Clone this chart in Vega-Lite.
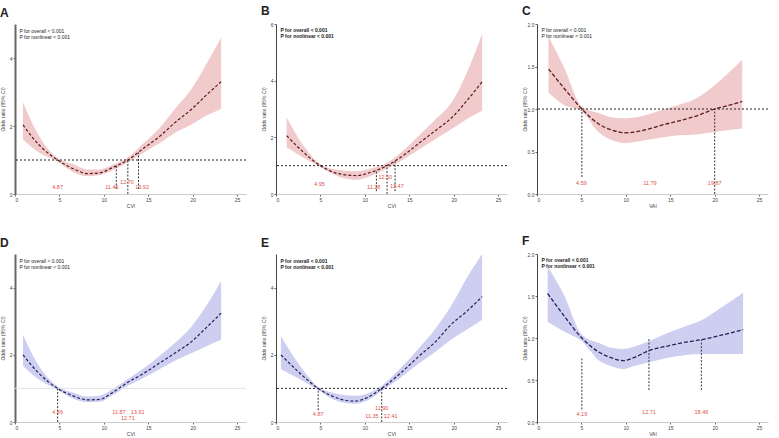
{
  "$schema": "https://vega.github.io/schema/vega-lite/v6.json",
  "padding": {"left": 0, "top": 5, "right": 0, "bottom": 0},
  "background": "white",
  "datasets": {
    "A_curve": [
      {"x": 0.9, "est": 2.03, "lo": 1.6, "hi": 2.7},
      {"x": 2.5, "est": 1.5, "lo": 1.25, "hi": 1.8},
      {"x": 4.8, "est": 1.0, "lo": 0.95, "hi": 1.05},
      {"x": 6.5, "est": 0.75, "lo": 0.65, "hi": 0.88},
      {"x": 8.2, "est": 0.6, "lo": 0.52, "hi": 0.72},
      {"x": 9.5, "est": 0.62, "lo": 0.55, "hi": 0.72},
      {"x": 11.0, "est": 0.78, "lo": 0.7, "hi": 0.86},
      {"x": 12.7, "est": 1.0, "lo": 0.93, "hi": 1.07},
      {"x": 14.5, "est": 1.35, "lo": 1.22, "hi": 1.5},
      {"x": 16.3, "est": 1.7, "lo": 1.5, "hi": 1.95},
      {"x": 18.0, "est": 2.1, "lo": 1.8, "hi": 2.5},
      {"x": 19.9, "est": 2.5, "lo": 2.05, "hi": 3.1},
      {"x": 21.5, "est": 2.9, "lo": 2.3, "hi": 3.8},
      {"x": 23.2, "est": 3.3, "lo": 2.5, "hi": 4.6}
    ],
    "A_cut": [
      {"x": 11.4, "y0": 0.15, "y1": 0.85},
      {"x": 12.7, "y0": 0.0, "y1": 1.0},
      {"x": 13.9, "y0": 0.15, "y1": 1.22}
    ],
    "A_lab": [
      {"x": 4.8, "y": 0.22, "label": "4.87"},
      {"x": 10.9, "y": 0.22, "label": "11.46"},
      {"x": 12.6, "y": 0.36, "label": "12.70"},
      {"x": 14.3, "y": 0.22, "label": "13.92"}
    ],
    "B_curve": [
      {"x": 1.2, "est": 2.06, "lo": 1.65, "hi": 2.7},
      {"x": 3.0, "est": 1.5, "lo": 1.3, "hi": 1.75},
      {"x": 5.0, "est": 1.0, "lo": 0.95, "hi": 1.05},
      {"x": 7.0, "est": 0.72, "lo": 0.62, "hi": 0.85},
      {"x": 9.1, "est": 0.65, "lo": 0.5, "hi": 0.8},
      {"x": 10.5, "est": 0.75, "lo": 0.62, "hi": 0.88},
      {"x": 12.5, "est": 1.0, "lo": 0.9, "hi": 1.1},
      {"x": 14.5, "est": 1.4, "lo": 1.25, "hi": 1.58},
      {"x": 16.2, "est": 1.82, "lo": 1.6, "hi": 2.1},
      {"x": 18.0, "est": 2.25, "lo": 1.95, "hi": 2.65},
      {"x": 19.8, "est": 2.7, "lo": 2.3, "hi": 3.25},
      {"x": 21.5, "est": 3.3, "lo": 2.65, "hi": 4.3},
      {"x": 23.2, "est": 3.96, "lo": 2.94, "hi": 5.65}
    ],
    "B_cut": [
      {"x": 11.3, "y0": 0.1, "y1": 0.85},
      {"x": 12.5, "y0": 0.0, "y1": 1.0},
      {"x": 13.4, "y0": 0.1, "y1": 1.2}
    ],
    "B_lab": [
      {"x": 4.9, "y": 0.35, "label": "4.95"},
      {"x": 11.0, "y": 0.24, "label": "11.28"},
      {"x": 12.3, "y": 0.59, "label": "12.50"},
      {"x": 13.6, "y": 0.29, "label": "13.47"}
    ],
    "C_curve": [
      {"x": 1.3, "est": 1.47, "lo": 1.19, "hi": 1.85},
      {"x": 3.0, "est": 1.25, "lo": 1.05, "hi": 1.5},
      {"x": 5.05, "est": 1.0, "lo": 0.97, "hi": 1.03},
      {"x": 7.0, "est": 0.82, "lo": 0.72, "hi": 0.95},
      {"x": 8.5, "est": 0.75, "lo": 0.63, "hi": 0.9},
      {"x": 10.0, "est": 0.72, "lo": 0.6, "hi": 0.89},
      {"x": 12.0, "est": 0.75, "lo": 0.63, "hi": 0.92},
      {"x": 14.4, "est": 0.82, "lo": 0.67, "hi": 1.0},
      {"x": 16.0, "est": 0.86, "lo": 0.69, "hi": 1.05},
      {"x": 18.0, "est": 0.92, "lo": 0.7, "hi": 1.13},
      {"x": 20.0, "est": 1.0, "lo": 0.73, "hi": 1.28},
      {"x": 21.5, "est": 1.04, "lo": 0.75, "hi": 1.42},
      {"x": 23.1, "est": 1.09, "lo": 0.77, "hi": 1.58}
    ],
    "C_cut": [
      {"x": 5.05, "y0": 0.2, "y1": 1.0},
      {"x": 20.0, "y0": 0.0, "y1": 1.0}
    ],
    "C_lab": [
      {"x": 5.0, "y": 0.13, "label": "4.59"},
      {"x": 12.7, "y": 0.13, "label": "11.79"},
      {"x": 20.0, "y": 0.13, "label": "19.87"}
    ],
    "D_curve": [
      {"x": 0.9, "est": 2.0, "lo": 1.67, "hi": 2.6},
      {"x": 2.5, "est": 1.5, "lo": 1.3, "hi": 1.75},
      {"x": 4.8, "est": 1.0, "lo": 0.95, "hi": 1.06},
      {"x": 6.5, "est": 0.78, "lo": 0.7, "hi": 0.88},
      {"x": 8.2, "est": 0.66, "lo": 0.59, "hi": 0.76},
      {"x": 9.5, "est": 0.67, "lo": 0.6, "hi": 0.78},
      {"x": 11.0, "est": 0.88, "lo": 0.8, "hi": 0.98},
      {"x": 12.7, "est": 1.18, "lo": 1.08, "hi": 1.28},
      {"x": 14.5, "est": 1.45, "lo": 1.32, "hi": 1.6},
      {"x": 16.3, "est": 1.76, "lo": 1.58, "hi": 1.97},
      {"x": 18.0, "est": 2.05, "lo": 1.82, "hi": 2.35},
      {"x": 19.9, "est": 2.4, "lo": 2.05, "hi": 2.85},
      {"x": 21.5, "est": 2.8, "lo": 2.25, "hi": 3.45},
      {"x": 23.2, "est": 3.24, "lo": 2.45, "hi": 4.2}
    ],
    "D_cut": [
      {"x": 4.8, "y0": 0.0, "y1": 1.0}
    ],
    "D_lab": [
      {"x": 4.8, "y": 0.3, "label": "4.86"},
      {"x": 11.7, "y": 0.3, "label": "11.87"},
      {"x": 13.8, "y": 0.3, "label": "13.61"},
      {"x": 12.7, "y": 0.13, "label": "12.71"}
    ],
    "E_curve": [
      {"x": 0.55, "est": 2.0, "lo": 1.57, "hi": 2.55},
      {"x": 2.5, "est": 1.5, "lo": 1.3, "hi": 1.75},
      {"x": 4.75, "est": 1.0, "lo": 0.95, "hi": 1.05},
      {"x": 6.5, "est": 0.75, "lo": 0.66, "hi": 0.86},
      {"x": 8.8, "est": 0.62, "lo": 0.54, "hi": 0.78},
      {"x": 10.3, "est": 0.73, "lo": 0.64, "hi": 0.85},
      {"x": 11.9, "est": 1.0, "lo": 0.92, "hi": 1.08},
      {"x": 14.0, "est": 1.45, "lo": 1.32, "hi": 1.6},
      {"x": 16.1, "est": 1.96, "lo": 1.75, "hi": 2.2},
      {"x": 18.0, "est": 2.4, "lo": 2.1, "hi": 2.8},
      {"x": 19.7, "est": 2.9, "lo": 2.45, "hi": 3.45},
      {"x": 21.5, "est": 3.3, "lo": 2.75, "hi": 4.3},
      {"x": 23.2, "est": 3.73, "lo": 3.04, "hi": 5.0}
    ],
    "E_cut": [
      {"x": 4.75, "y0": 0.35, "y1": 1.0},
      {"x": 11.9, "y0": 0.0, "y1": 1.0}
    ],
    "E_lab": [
      {"x": 4.75, "y": 0.25, "label": "4.87"},
      {"x": 10.8, "y": 0.18, "label": "11.35"},
      {"x": 12.9, "y": 0.18, "label": "12.41"},
      {"x": 11.9, "y": 0.42, "label": "11.90"}
    ],
    "F_curve": [
      {"x": 1.2, "est": 1.53, "lo": 1.19, "hi": 1.85},
      {"x": 3.0, "est": 1.27, "lo": 1.08, "hi": 1.52},
      {"x": 5.05, "est": 1.0, "lo": 0.96, "hi": 1.04},
      {"x": 7.0, "est": 0.83, "lo": 0.73, "hi": 0.94},
      {"x": 8.5, "est": 0.76, "lo": 0.66, "hi": 0.88},
      {"x": 9.7, "est": 0.73, "lo": 0.63, "hi": 0.87},
      {"x": 11.0, "est": 0.77, "lo": 0.67, "hi": 0.9},
      {"x": 12.6, "est": 0.85, "lo": 0.71, "hi": 0.96},
      {"x": 14.5, "est": 0.9, "lo": 0.76, "hi": 1.05},
      {"x": 16.2, "est": 0.94, "lo": 0.79, "hi": 1.12},
      {"x": 18.5, "est": 0.98, "lo": 0.81, "hi": 1.21},
      {"x": 21.0, "est": 1.04, "lo": 0.81, "hi": 1.38},
      {"x": 23.2, "est": 1.1, "lo": 0.81, "hi": 1.54}
    ],
    "F_cut": [
      {"x": 5.05, "y0": 0.15, "y1": 0.77},
      {"x": 12.6, "y0": 0.38, "y1": 1.0},
      {"x": 18.5, "y0": 0.38, "y1": 0.98}
    ],
    "F_lab": [
      {"x": 5.05, "y": 0.1, "label": "4.19"},
      {"x": 12.6, "y": 0.12, "label": "12.71"},
      {"x": 18.5, "y": 0.12, "label": "18.46"}
    ],
    "ref": [{"ref": 1}],
    "one": [{"id": 1}]
  },
  "vconcat": [
    {
      "hconcat": [
        {
          "title": "A", "width": 231, "height": 170,
          "layer": [
            {"data": {"name": "A_curve"}, "mark": {"type": "area", "color": "#f0c4c6", "opacity": 0.9, "interpolate": "monotone", "clip": true},
             "encoding": {
               "x": {"field": "x", "type": "quantitative", "scale": {"domain": [0, 25]}, "axis": {"values": [0, 5, 10, 15, 20, 25], "title": "CVI", "domainColor": "#ccc"}},
               "y": {"field": "lo", "type": "quantitative", "scale": {"domain": [0, 5]}, "axis": {"values": [0, 1, 2, 3, 4, 5], "labelOverlap": false, "labelSeparation": 0, "title": "Odds ratio (95% CI)", "domainWidth": 2, "domainColor": "#666"}},
               "y2": {"field": "hi"}}},
            {"data": {"name": "A_curve"}, "mark": {"type": "line", "color": "#5a1c1c", "strokeDash": [3, 2], "strokeWidth": 1.2, "interpolate": "monotone"},
             "encoding": {"x": {"field": "x", "type": "quantitative"}, "y": {"field": "est", "type": "quantitative"}}},
            {"data": {"name": "ref"}, "mark": {"type": "rule", "color": "#222", "strokeDash": [2, 2], "strokeWidth": 1},
             "encoding": {"y": {"field": "ref", "type": "quantitative"}}},
            {"data": {"name": "A_cut"}, "mark": {"type": "rule", "color": "#222", "strokeDash": [2, 1.5], "strokeWidth": 0.9},
             "encoding": {"x": {"field": "x", "type": "quantitative"}, "y": {"field": "y0", "type": "quantitative"}, "y2": {"field": "y1"}}},
            {"data": {"name": "A_lab"}, "mark": {"type": "text", "color": "#e0504a", "fontSize": 5.5},
             "encoding": {"x": {"field": "x", "type": "quantitative"}, "y": {"field": "y", "type": "quantitative"}, "text": {"field": "label"}}},
            {"data": {"name": "one"}, "mark": {"type": "text", "align": "left", "baseline": "top", "fontSize": 5, "color": "#222", "lineHeight": 6, "text": ["P for overall < 0.001", "P for nonlinear < 0.001"]},
             "encoding": {"x": {"datum": 0.5}, "y": {"datum": 4.85}}}
          ]
        },
        {
          "title": "B", "width": 231, "height": 170,
          "layer": [
            {"data": {"name": "B_curve"}, "mark": {"type": "area", "color": "#f0c4c6", "opacity": 0.9, "interpolate": "monotone", "clip": true},
             "encoding": {
               "x": {"field": "x", "type": "quantitative", "scale": {"domain": [0, 25]}, "axis": {"values": [0, 5, 10, 15, 20, 25], "title": "CVI", "domainColor": "#ccc"}},
               "y": {"field": "lo", "type": "quantitative", "scale": {"domain": [0, 6]}, "axis": {"values": [0, 1, 2, 3, 4, 5, 6], "labelOverlap": false, "labelSeparation": 0, "title": "Odds ratio (95% CI)", "domainColor": "#444"}},
               "y2": {"field": "hi"}}},
            {"data": {"name": "B_curve"}, "mark": {"type": "line", "color": "#5a1c1c", "strokeDash": [3, 2], "strokeWidth": 1.2, "interpolate": "monotone"},
             "encoding": {"x": {"field": "x", "type": "quantitative"}, "y": {"field": "est", "type": "quantitative"}}},
            {"data": {"name": "ref"}, "mark": {"type": "rule", "color": "#222", "strokeDash": [2, 2], "strokeWidth": 1},
             "encoding": {"y": {"field": "ref", "type": "quantitative"}}},
            {"data": {"name": "B_cut"}, "mark": {"type": "rule", "color": "#222", "strokeDash": [2, 1.5], "strokeWidth": 0.9},
             "encoding": {"x": {"field": "x", "type": "quantitative"}, "y": {"field": "y0", "type": "quantitative"}, "y2": {"field": "y1"}}},
            {"data": {"name": "B_lab"}, "mark": {"type": "text", "color": "#e0504a", "fontSize": 5.5},
             "encoding": {"x": {"field": "x", "type": "quantitative"}, "y": {"field": "y", "type": "quantitative"}, "text": {"field": "label"}}},
            {"data": {"name": "one"}, "mark": {"type": "text", "align": "left", "baseline": "top", "fontSize": 5, "fontWeight": "bold", "color": "#222", "lineHeight": 6, "text": ["P for overall < 0.001", "P for nonlinear < 0.001"]},
             "encoding": {"x": {"datum": 0.5}, "y": {"datum": 5.85}}}
          ]
        },
        {
          "title": "C", "width": 231, "height": 170,
          "layer": [
            {"data": {"name": "C_curve"}, "mark": {"type": "area", "color": "#f0c4c6", "opacity": 0.9, "interpolate": "monotone", "clip": true},
             "encoding": {
               "x": {"field": "x", "type": "quantitative", "scale": {"domain": [0, 25]}, "axis": {"values": [0, 5, 10, 15, 20, 25], "title": "VAI", "domainColor": "#ccc"}},
               "y": {"field": "lo", "type": "quantitative", "scale": {"domain": [0, 2]}, "axis": {"values": [0, 0.5, 1, 1.5, 2], "labelOverlap": false, "labelSeparation": 0, "format": ".1f", "title": "Odds ratio (95% CI)", "domainColor": "#444"}},
               "y2": {"field": "hi"}}},
            {"data": {"name": "C_curve"}, "mark": {"type": "line", "color": "#5a1c1c", "strokeDash": [4, 2], "strokeWidth": 1.3, "interpolate": "monotone"},
             "encoding": {"x": {"field": "x", "type": "quantitative"}, "y": {"field": "est", "type": "quantitative"}}},
            {"data": {"name": "ref"}, "mark": {"type": "rule", "color": "#222", "strokeDash": [2, 2], "strokeWidth": 1},
             "encoding": {"y": {"field": "ref", "type": "quantitative"}}},
            {"data": {"name": "C_cut"}, "mark": {"type": "rule", "color": "#222", "strokeDash": [2, 1.5], "strokeWidth": 0.9},
             "encoding": {"x": {"field": "x", "type": "quantitative"}, "y": {"field": "y0", "type": "quantitative"}, "y2": {"field": "y1"}}},
            {"data": {"name": "C_lab"}, "mark": {"type": "text", "color": "#e0504a", "fontSize": 5.5},
             "encoding": {"x": {"field": "x", "type": "quantitative"}, "y": {"field": "y", "type": "quantitative"}, "text": {"field": "label"}}},
            {"data": {"name": "one"}, "mark": {"type": "text", "align": "left", "baseline": "top", "fontSize": 5, "color": "#222", "lineHeight": 6, "text": ["P for overall < 0.001", "P for nonlinear < 0.001"]},
             "encoding": {"x": {"datum": 0.5}, "y": {"datum": 1.95}}}
          ]
        }
      ]
    },
    {
      "hconcat": [
        {
          "title": "D", "width": 231, "height": 168,
          "layer": [
            {"data": {"name": "D_curve"}, "mark": {"type": "area", "color": "#c9c9ef", "opacity": 0.9, "interpolate": "monotone", "clip": true},
             "encoding": {
               "x": {"field": "x", "type": "quantitative", "scale": {"domain": [0, 25]}, "axis": {"values": [0, 5, 10, 15, 20, 25], "title": "CVI", "domainColor": "#ccc"}},
               "y": {"field": "lo", "type": "quantitative", "scale": {"domain": [0, 5]}, "axis": {"values": [0, 1, 2, 3, 4, 5], "labelOverlap": false, "labelSeparation": 0, "title": "Odds ratio (95% CI)", "domainWidth": 2, "domainColor": "#666"}},
               "y2": {"field": "hi"}}},
            {"data": {"name": "ref"}, "mark": {"type": "rule", "color": "#e2e2e2", "strokeWidth": 1},
             "encoding": {"y": {"field": "ref", "type": "quantitative"}}},
            {"data": {"name": "D_curve"}, "mark": {"type": "line", "color": "#22225a", "strokeDash": [3, 2], "strokeWidth": 1.2, "interpolate": "monotone"},
             "encoding": {"x": {"field": "x", "type": "quantitative"}, "y": {"field": "est", "type": "quantitative"}}},
            {"data": {"name": "D_cut"}, "mark": {"type": "rule", "color": "#222", "strokeDash": [2, 1.5], "strokeWidth": 0.9},
             "encoding": {"x": {"field": "x", "type": "quantitative"}, "y": {"field": "y0", "type": "quantitative"}, "y2": {"field": "y1"}}},
            {"data": {"name": "D_lab"}, "mark": {"type": "text", "color": "#e0504a", "fontSize": 5.5},
             "encoding": {"x": {"field": "x", "type": "quantitative"}, "y": {"field": "y", "type": "quantitative"}, "text": {"field": "label"}}},
            {"data": {"name": "one"}, "mark": {"type": "text", "align": "left", "baseline": "top", "fontSize": 5, "color": "#222", "lineHeight": 6, "text": ["P for overall < 0.001", "P for nonlinear < 0.001"]},
             "encoding": {"x": {"datum": 0.5}, "y": {"datum": 4.85}}}
          ]
        },
        {
          "title": "E", "width": 231, "height": 168,
          "layer": [
            {"data": {"name": "E_curve"}, "mark": {"type": "area", "color": "#c9c9ef", "opacity": 0.9, "interpolate": "monotone", "clip": true},
             "encoding": {
               "x": {"field": "x", "type": "quantitative", "scale": {"domain": [0, 25]}, "axis": {"values": [0, 5, 10, 15, 20, 25], "title": "CVI", "domainColor": "#ccc"}},
               "y": {"field": "lo", "type": "quantitative", "scale": {"domain": [0, 5]}, "axis": {"values": [0, 1, 2, 3, 4, 5], "labelOverlap": false, "labelSeparation": 0, "title": "Odds ratio (95% CI)", "domainColor": "#444"}},
               "y2": {"field": "hi"}}},
            {"data": {"name": "E_curve"}, "mark": {"type": "line", "color": "#22225a", "strokeDash": [3, 2], "strokeWidth": 1.2, "interpolate": "monotone"},
             "encoding": {"x": {"field": "x", "type": "quantitative"}, "y": {"field": "est", "type": "quantitative"}}},
            {"data": {"name": "ref"}, "mark": {"type": "rule", "color": "#222", "strokeDash": [2, 2], "strokeWidth": 1},
             "encoding": {"y": {"field": "ref", "type": "quantitative"}}},
            {"data": {"name": "E_cut"}, "mark": {"type": "rule", "color": "#222", "strokeDash": [2, 1.5], "strokeWidth": 0.9},
             "encoding": {"x": {"field": "x", "type": "quantitative"}, "y": {"field": "y0", "type": "quantitative"}, "y2": {"field": "y1"}}},
            {"data": {"name": "E_lab"}, "mark": {"type": "text", "color": "#e0504a", "fontSize": 5.5},
             "encoding": {"x": {"field": "x", "type": "quantitative"}, "y": {"field": "y", "type": "quantitative"}, "text": {"field": "label"}}},
            {"data": {"name": "one"}, "mark": {"type": "text", "align": "left", "baseline": "top", "fontSize": 5, "fontWeight": "bold", "color": "#222", "lineHeight": 6, "text": ["P for overall < 0.001", "P for nonlinear < 0.001"]},
             "encoding": {"x": {"datum": 0.5}, "y": {"datum": 4.85}}}
          ]
        },
        {
          "title": "F", "width": 231, "height": 168,
          "layer": [
            {"data": {"name": "F_curve"}, "mark": {"type": "area", "color": "#c9c9ef", "opacity": 0.9, "interpolate": "monotone", "clip": true},
             "encoding": {
               "x": {"field": "x", "type": "quantitative", "scale": {"domain": [0, 25]}, "axis": {"values": [0, 5, 10, 15, 20, 25], "title": "VAI", "domainColor": "#ccc"}},
               "y": {"field": "lo", "type": "quantitative", "scale": {"domain": [0, 2]}, "axis": {"values": [0, 0.5, 1, 1.5, 2], "labelOverlap": false, "labelSeparation": 0, "format": ".1f", "title": "Odds ratio (95% CI)", "domainColor": "#444"}},
               "y2": {"field": "hi"}}},
            {"data": {"name": "F_curve"}, "mark": {"type": "line", "color": "#22225a", "strokeDash": [4, 2], "strokeWidth": 1.3, "interpolate": "monotone"},
             "encoding": {"x": {"field": "x", "type": "quantitative"}, "y": {"field": "est", "type": "quantitative"}}},
            {"data": {"name": "F_cut"}, "mark": {"type": "rule", "color": "#222", "strokeDash": [2, 1.5], "strokeWidth": 0.9},
             "encoding": {"x": {"field": "x", "type": "quantitative"}, "y": {"field": "y0", "type": "quantitative"}, "y2": {"field": "y1"}}},
            {"data": {"name": "F_lab"}, "mark": {"type": "text", "color": "#e0504a", "fontSize": 5.5},
             "encoding": {"x": {"field": "x", "type": "quantitative"}, "y": {"field": "y", "type": "quantitative"}, "text": {"field": "label"}}},
            {"data": {"name": "one"}, "mark": {"type": "text", "align": "left", "baseline": "top", "fontSize": 5, "fontWeight": "bold", "color": "#222", "lineHeight": 6, "text": ["P for overall < 0.001", "P for nonlinear < 0.001"]},
             "encoding": {"x": {"datum": 0.5}, "y": {"datum": 1.95}}}
          ]
        }
      ]
    }
  ],
  "spacing": 27,
  "config": {
    "view": {"stroke": null},
    "font": "Liberation Sans",
    "concat": {"spacing": 14},
    "axis": {"grid": false, "labelFontSize": 5, "titleFontSize": 5, "tickSize": 2, "labelPadding": 1, "titlePadding": 1, "labelColor": "#444", "titleColor": "#444", "titleFontWeight": "normal", "tickColor": "#666", "labelOverlap": false},
    "axisQuantitative": {"labelOverlap": false},
    "axisY": {"minExtent": 9, "maxExtent": 9, "labelOverlap": false},
    "title": {"anchor": "start", "frame": "bounds", "fontSize": 12, "fontWeight": "bold", "offset": 4, "color": "#222"}
  }
}
